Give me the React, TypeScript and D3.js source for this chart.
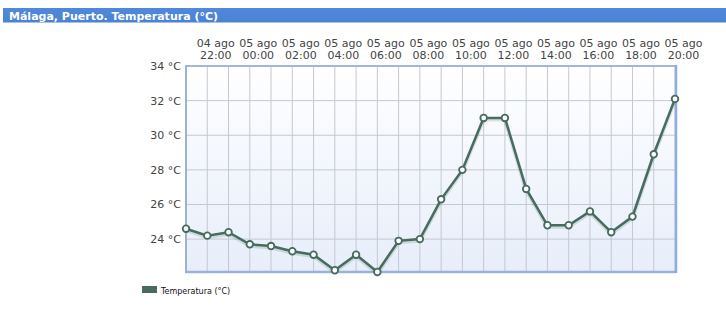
import React from "react";
import * as d3 from "d3";

const title = "Málaga, Puerto. Temperatura (°C)";
const seriesName = "Temperatura (°C)";

const dates = [
  "04 ago", "04 ago", "04 ago", "05 ago", "05 ago", "05 ago", "05 ago", "05 ago",
  "05 ago", "05 ago", "05 ago", "05 ago", "05 ago", "05 ago", "05 ago", "05 ago",
  "05 ago", "05 ago", "05 ago", "05 ago", "05 ago", "05 ago", "05 ago", "05 ago",
];
const hours = [
  "21:00", "22:00", "23:00", "00:00", "01:00", "02:00", "03:00", "04:00",
  "05:00", "06:00", "07:00", "08:00", "09:00", "10:00", "11:00", "12:00",
  "13:00", "14:00", "15:00", "16:00", "17:00", "18:00", "19:00", "20:00",
];
const temps = [
  24.6, 24.2, 24.4, 23.7, 23.6, 23.3, 23.1, 22.2,
  23.1, 22.1, 23.9, 24.0, 26.3, 28.0, 31.0, 31.0,
  26.9, 24.8, 24.8, 25.6, 24.4, 25.3, 28.9, 32.1,
];
const yTicks = [24, 26, 28, 30, 32, 34];
const yMin = 22.1;
const yMax = 34;

export default function App() {
  const W = 726, H = 321;
  const left = 186, right = 675, top = 66, bottom = 272;
  const idx = d3.range(temps.length);
  const x = d3.scalePoint<number>().domain(idx).range([left, right]);
  const y = d3.scaleLinear().domain([yMin, yMax]).range([bottom, top]);
  const line = d3.line<number>().x((i) => x(i)!).y((i) => y(temps[i]));
  const tickIdx = idx.filter((i) => i % 2 === 1);
  const lineColor = "#476b5e";
  const font = "'DejaVu Sans', Verdana, sans-serif";

  return (
    <svg
      width={W}
      height={H}
      style={{ position: "absolute", left: 0, top: 0, display: "block" }}
    >
      <defs>
        <linearGradient id="bg" x1="0" y1="0" x2="0" y2="1">
          <stop offset="0" stopColor="#ffffff" />
          <stop offset="1" stopColor="#e7eefa" />
        </linearGradient>
        <linearGradient id="bar" x1="0" y1="0" x2="0" y2="1">
          <stop offset="0" stopColor="#5089db" />
          <stop offset="1" stopColor="#4a82d4" />
        </linearGradient>
      </defs>
      <rect x={0} y={0} width={W} height={H} fill="#ffffff" />
      <rect x={3} y={8} width={W - 3} height={14.5} fill="url(#bar)" />
      <text
        x={9}
        y={19.5}
        fill="#ffffff"
        fontFamily={font}
        fontWeight="bold"
        fontSize={11}
      >
        {title}
      </text>

      <rect x={left} y={top} width={right - left} height={bottom - top} fill="url(#bg)" />
      {idx.map((i) => (
        <line
          key={"gx" + i}
          x1={x(i)!}
          x2={x(i)!}
          y1={top}
          y2={bottom}
          stroke="#c3c8d2"
          strokeWidth={1}
        />
      ))}
      {yTicks.map((t) => (
        <line
          key={"gy" + t}
          x1={left}
          x2={right}
          y1={y(t)}
          y2={y(t)}
          stroke="#c3c8d2"
          strokeWidth={1}
        />
      ))}
      <line x1={left} x2={right + 1} y1={top} y2={top} stroke="#a3b6d2" strokeWidth={2} />
      <line x1={left} x2={left} y1={top - 1} y2={bottom + 1} stroke="#9db1d0" strokeWidth={2} />
      <line x1={left - 1} x2={right + 1} y1={bottom} y2={bottom} stroke="#9bb2d6" strokeWidth={2.5} />
      <line x1={right + 1} x2={right + 1} y1={top - 1} y2={bottom + 1} stroke="#8eaee2" strokeWidth={2.5} />

      {yTicks.map((t) => (
        <text
          key={"yl" + t}
          x={181}
          y={y(t) + 4}
          textAnchor="end"
          fontFamily={font}
          fontSize={11}
          fill="#444"
        >
          {t} °C
        </text>
      ))}
      {tickIdx.map((i) => (
        <g key={"xl" + i} fontFamily={font} fontSize={11} fill="#444" textAnchor="middle">
          <text x={x(i)! + 8.5} y={47}>{dates[i]}</text>
          <text x={x(i)! + 8.5} y={59}>{hours[i]}</text>
        </g>
      ))}

      <path
        d={line(idx) || ""}
        fill="none"
        stroke="rgba(40,80,60,0.15)"
        strokeWidth={4}
        transform="translate(0,1.5)"
      />
      <path d={line(idx) || ""} fill="none" stroke={lineColor} strokeWidth={2.5} />
      {idx.map((i) => (
        <circle
          key={"pt" + i}
          cx={x(i)!}
          cy={y(temps[i])}
          r={3.3}
          fill="#ffffff"
          stroke={lineColor}
          strokeWidth={1.8}
        />
      ))}

      <rect x={142} y={286} width={15} height={7} fill={lineColor} />
      <text x={161} y={294} fontFamily={font} fontSize={8} fill="#111">
        {seriesName}
      </text>
    </svg>
  );
}
